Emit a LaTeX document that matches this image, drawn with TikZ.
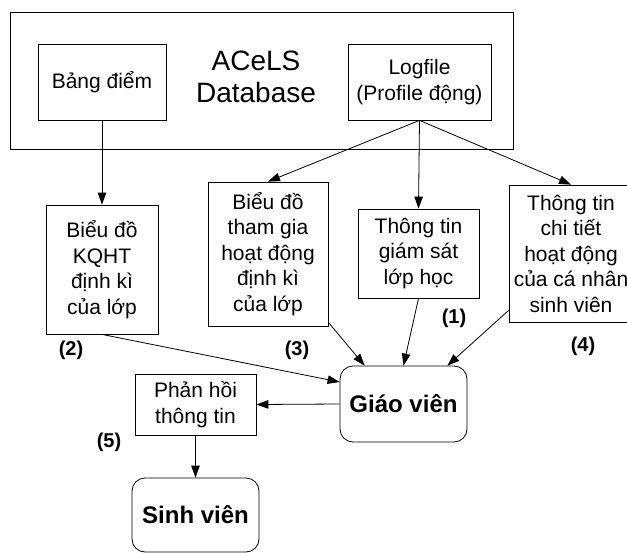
\documentclass[tikz,border=0pt]{standalone}
\usepackage{fontspec}
\setmainfont{Liberation Sans}
\usetikzlibrary{arrows.meta,calc}

\tikzset{
  box/.style={draw, line width=0.8pt, inner sep=0pt, align=center,
    font=\fontsize{21}{25.5}\selectfont},
  actor/.style={box, rounded corners=13pt,
    font=\fontsize{24}{28}\selectfont\bfseries},
  tag/.style={inner sep=0pt, font=\fontsize{20}{24}\selectfont\bfseries},
  flow/.style={line width=0.8pt, -{Triangle[length=12pt,width=8.5pt]}}
}

\begin{document}
\begin{tikzpicture}[x=1pt, y=-1pt]
\useasboundingbox (0,0) rectangle (627,552);
\clip (0,0) rectangle (627,552);
\fill[white] (0,0) rectangle (627,552);

% database frame with its two stores
\node[box, minimum width=503pt, minimum height=137pt] (db) at (261.5,80.5) {};
\node[box, minimum width=128pt, minimum height=76pt] (bangdiem) at (102,82) {Bảng điểm};
\node[inner sep=0pt, align=center, font=\fontsize{28}{32.6}\selectfont] (acels) at (256,77) {ACeLS\\Database};
\node[box, minimum width=143pt, minimum height=76pt] (logfile) at (419.5,82) {Logfile\\(Profile động)};

% reports derived from the database
\node[box, minimum width=112pt, minimum height=129pt] (kqht) at (102,269.5) {Biểu đồ\\KQHT\\định kì\\của lớp};
\node[box, minimum width=120pt, minimum height=144pt] (thamgia) at (268,254) {Biểu đồ\\tham gia\\hoạt động\\định kì\\của lớp};
\node[box, minimum width=121pt, minimum height=89pt] (giamsat) at (418.5,253.5) {Thông tin\\giám sát\\lớp học};
\node[box, minimum width=124pt, minimum height=137pt] (chitiet) at (571,253.5) {Thông tin\\chi tiết\\hoạt động\\của cá nhân\\sinh viên};

% people
\node[actor, minimum width=127pt, minimum height=76pt] (giaovien) at (403.5,404) {Giáo viên};
\node[box, minimum width=121pt, minimum height=61pt] (phanhoi) at (195.5,404.5) {Phản hồi\\thông tin};
\node[actor, minimum width=127pt, minimum height=74pt] (sinhvien) at (195.5,515) {Sinh viên};

% numbered steps
\node[tag] (t1) at (454,318) {(1)};
\node[tag] (t2) at (71,350) {(2)};
\node[tag] (t3) at (297,350) {(3)};
\node[tag] (t4) at (583,346) {(4)};
\node[tag] (t5) at (109,442) {(5)};

% connectors
\draw[flow] (bangdiem.south) -- (kqht.north);
\draw[flow] (logfile.south) -- (thamgia.north);
\draw[flow] (logfile.south) -- (giamsat.north);
\draw[flow] (logfile.south) -- (chitiet.north);
\draw[flow] (kqht.south) -- (giaovien.161);
\draw[flow] ($(thamgia.south east)+(0,-4)$) -- ($(giaovien.north west)+(25,0)$);
\draw[flow] (giamsat.south) -- (giaovien.north);
\draw[flow] ($(chitiet.south west)+(0,-12)$) -- ($(giaovien.north east)+(-20,0)$);
\draw[flow] (giaovien.west) -- (phanhoi.east);
\draw[flow] (phanhoi.south) -- (sinhvien.north);
\end{tikzpicture}
\end{document}
